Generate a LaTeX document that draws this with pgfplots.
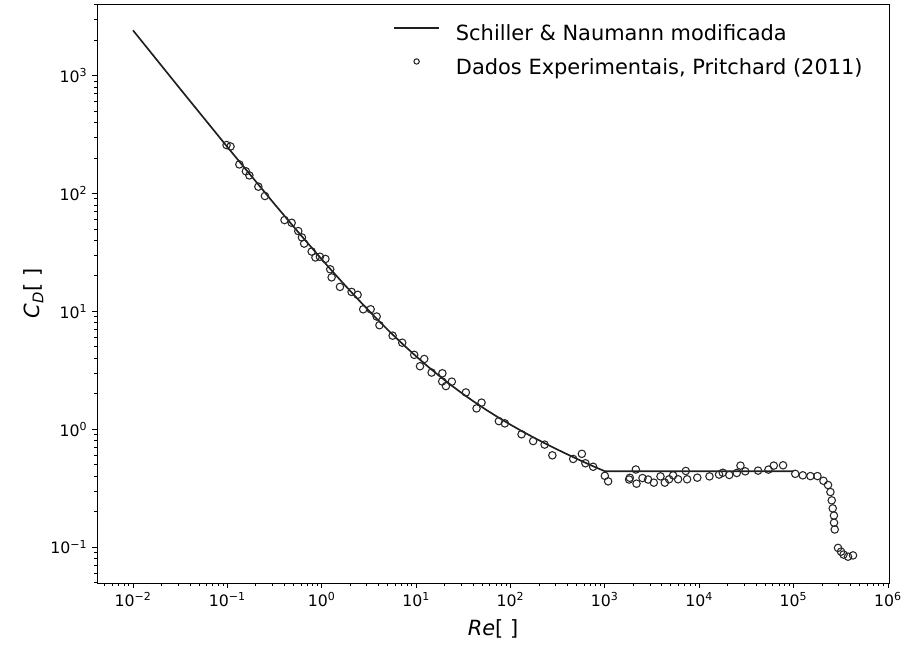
\documentclass[border=0pt]{standalone}
\usepackage{pgfplots}
\pgfplotsset{compat=1.18}
\usepackage{fontspec}
\setmainfont{DejaVu Sans}
\begin{document}
\begin{tikzpicture}
\useasboundingbox (-72.75pt,-47.25pt) rectangle (605.25pt,437.25pt);
\begin{axis}[
  scale only axis, width=594pt, height=434.25pt,
  xmode=log, ymode=log,
  xmin=0.004153, xmax=1.0268e6, ymin=0.04958, ymax=4039,
  axis line style={black, line width=0.6pt},
  tick pos=left, tick align=outside,
  major tick length=3.75pt, minor tick length=2.1pt,
  every tick/.style={black, line width=0.6pt},
  minor tick style={black, line width=0.45pt},
  xtick={0.01,0.1,1,10,100,1000,10000,100000,1000000},
  xticklabels={10\textsuperscript{−2},10\textsuperscript{−1},10\textsuperscript{0},10\textsuperscript{1},10\textsuperscript{2},10\textsuperscript{3},10\textsuperscript{4},10\textsuperscript{5},10\textsuperscript{6}},
  ytick={0.1,1,10,100,1000},
  yticklabels={10\textsuperscript{−1},10\textsuperscript{0},10\textsuperscript{1},10\textsuperscript{2},10\textsuperscript{3}},
  minor xtick={0.005,0.006,0.007,0.008,0.009,0.02,0.03,0.04,0.05,0.06,0.07,0.08,0.09,0.2,0.3,0.4,0.5,0.6,0.7,0.8,0.9,2,3,4,5,6,7,8,9,20,30,40,50,60,70,80,90,200,300,400,500,600,700,800,900,2000,3000,4000,5000,6000,7000,8000,9000,2e4,3e4,4e4,5e4,6e4,7e4,8e4,9e4,2e5,3e5,4e5,5e5,6e5,7e5,8e5,9e5},
  minor ytick={0.05,0.06,0.07,0.08,0.09,0.2,0.3,0.4,0.5,0.6,0.7,0.8,0.9,2,3,4,5,6,7,8,9,20,30,40,50,60,70,80,90,200,300,400,500,600,700,800,900,2000,3000,4000},
  tick label style={font=\fontsize{11.8pt}{14pt}\selectfont},
  xlabel={\textit{Re}[ ]},
  ylabel={\textit{C}\textsubscript{\textit{D}}[ ]},
  every axis x label/.style={at={(axis description cs:0.5,-0.0622)}, anchor=north, inner sep=0pt, font=\fontsize{15.7pt}{18pt}\selectfont},
  every axis y label/.style={at={(axis description cs:-0.0673,0.5)}, rotate=90, anchor=south, inner sep=0pt, font=\fontsize{15.7pt}{18pt}\selectfont},
  legend cell align=left,
  legend style={draw=none, fill=none, at={(axis description cs:0.37374,0.9643)}, anchor=north west, inner sep=0pt,
    nodes={inner sep=0pt, text height=12pt, text depth=4pt}, row sep=9pt, column sep=12pt,
    font=\fontsize{15.7pt}{18pt}\selectfont},
]
\addplot[black!88, line width=1.25pt, legend image code/.code={\draw[black!88, line width=1.25pt] (0pt,5.7pt) -- (33.75pt,5.7pt);}]
coordinates {(0.01,2415) (0.03162,769.6) (0.1,247.4) (0.3162,81.05) (0.5623,46.99) (1,27.6) (1.3335,21.29) (1.778,16.51) (2.371,12.87) (3.162,10.10) (4.217,7.986) (5.623,6.365) (7.499,5.117) (10,4.151) (13.335,3.400) (17.78,2.813) (23.71,2.349) (31.62,1.980) (42.17,1.685) (56.23,1.447) (74.99,1.252) (100,1.092) (133.35,0.9584) (177.8,0.8466) (237.1,0.7514) (316.2,0.6701) (421.7,0.5999) (562.3,0.5388) (749.9,0.4852) (1000,0.44) (100000,0.44)};
\addlegendentry{Schiller \& Naumann modificada}
\addplot[only marks, mark=o, mark size=2.8pt, mark options={black!85, line width=0.8pt, fill=none},
  legend image code/.code={\path[draw=none] (0pt,0pt) -- (33.75pt,0pt); \draw[black!85, line width=0.8pt] (16.9pt,5.7pt) circle (2pt);}]
coordinates {(0.098,257) (0.108,250) (0.134,176) (0.157,154) (0.171,142) (0.213,114) (0.250,95) (0.403,59.4) (0.480,56.3) (0.564,47.9) (0.617,42.3) (0.651,37.5) (0.782,32.1) (0.858,28.6) (0.957,29.0) (1.094,27.8) (1.23,22.7) (1.273,19.4) (1.56,16.1) (2.07,14.6) (2.40,13.8) (2.75,10.4) (3.30,10.4) (3.82,9.03) (4.09,7.62) (5.64,6.21) (7.13,5.41) (9.55,4.27) (12.2,3.94) (11.0,3.42) (14.6,3.02) (19.0,2.98) (18.9,2.54) (20.7,2.32) (23.9,2.53) (33.7,2.05) (43.7,1.50) (49.4,1.68) (75.4,1.17) (87.2,1.12) (131,0.905) (174,0.793) (230,0.740) (278,0.600) (462,0.559) (571,0.618) (622,0.514) (752,0.480) (1000,0.402) (1084,0.361) (1809,0.374) (1840,0.387) (2131,0.455) (2167,0.345) (2508,0.385) (2875,0.374) (3304,0.352) (3890,0.398) (4321,0.352) (4799,0.376) (5290,0.406) (5976,0.376) (7214,0.442) (7445,0.376) (9548,0.388) (12855,0.398) (16245,0.412) (17783,0.427) (20839,0.409) (25020,0.425) (27384,0.491) (30779,0.439) (42057,0.445) (54218,0.454) (61703,0.491) (77421,0.494) (104230,0.418) (125180,0.406) (151010,0.400) (179140,0.400) (207400,0.365) (232000,0.336) (245900,0.293) (253900,0.249) (260200,0.213) (267900,0.185) (268500,0.161) (273200,0.141) (296000,0.0984) (318500,0.0914) (338500,0.0864) (377800,0.0829) (426900,0.085)};
\addlegendentry{Dados Experimentais, Pritchard (2011)}
\end{axis}
\end{tikzpicture}
\end{document}
